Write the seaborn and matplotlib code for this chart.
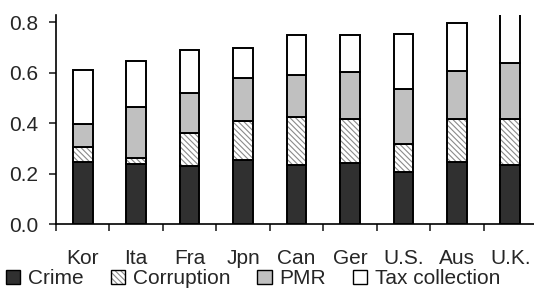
import numpy as np
import matplotlib
matplotlib.use("Agg")
import matplotlib.pyplot as plt
import seaborn as sns
from matplotlib.patches import Patch
from matplotlib.legend_handler import HandlerTuple

countries = ["Kor", "Ita", "Fra", "Jpn", "Can", "Ger", "U.S.", "Aus", "U.K."]
crime = [0.245, 0.239, 0.231, 0.252, 0.235, 0.240, 0.206, 0.245, 0.235]
corruption = [0.060, 0.024, 0.130, 0.155, 0.188, 0.176, 0.109, 0.171, 0.180]
pmr = [0.092, 0.199, 0.159, 0.170, 0.167, 0.186, 0.220, 0.191, 0.221]
tax = [0.213, 0.182, 0.171, 0.119, 0.159, 0.147, 0.219, 0.188, 0.230]
y_ticks = [0.0, 0.2, 0.4, 0.6, 0.8]

sns.set_style("ticks")
plt.rcParams["font.family"] = ["Liberation Sans", "DejaVu Sans"]
plt.rcParams["hatch.linewidth"] = 0.8

fig = plt.figure(figsize=(5.34, 2.89), dpi=100)
ax = fig.add_axes([56 / 534, 1 - 224 / 289, 481 / 534, 209 / 289])

bw = 0.37
lw = 1.4
fs = 15
hatch = "\\" * 6
bottom = np.zeros(len(countries))

# Crime
sns.barplot(x=countries, y=crime, color="#303030", saturation=1, width=bw,
            edgecolor="black", linewidth=lw, errorbar=None, ax=ax)
bottom += np.array(crime)

# Corruption: grey hatch first, then black outline on top
sns.barplot(x=countries, y=corruption, bottom=bottom, color="white", saturation=1,
            width=bw, edgecolor="#8a8a8a", linewidth=0, hatch=hatch,
            errorbar=None, ax=ax)
sns.barplot(x=countries, y=corruption, bottom=bottom, color="black", fill=False,
            width=bw, edgecolor="black", linewidth=lw, errorbar=None, ax=ax)
bottom += np.array(corruption)

# PMR
sns.barplot(x=countries, y=pmr, bottom=bottom, color="#c0c0c0", saturation=1,
            width=bw, edgecolor="black", linewidth=lw, errorbar=None, ax=ax)
bottom += np.array(pmr)

# Tax collection
sns.barplot(x=countries, y=tax, bottom=bottom, color="white", saturation=1,
            width=bw, edgecolor="black", linewidth=lw, errorbar=None, ax=ax)

ax.set_ylim(0, 0.828)
ax.set_xlim(-0.5, len(countries) - 0.5)
ax.set_yticks(y_ticks)
ax.set_yticklabels([f"{v:.1f}" for v in y_ticks])
ax.set_xticks(range(len(countries)))
ax.set_xticklabels(countries)
ax.set_xticks(np.arange(-0.5, len(countries) - 0.4, 1), minor=True)
ax.tick_params(axis="x", which="major", length=0, pad=18, labelsize=fs)
ax.tick_params(axis="x", which="minor", length=5, width=1.2, direction="out")
ax.tick_params(axis="y", length=5, width=1.2, pad=8, labelsize=fs)
ax.set_xlabel("")
ax.set_ylabel("")
sns.despine(ax=ax)
for side in ["left", "bottom"]:
    ax.spines[side].set_linewidth(1.2)
    ax.spines[side].set_color("black")

handles = [
    Patch(facecolor="#303030", edgecolor="black", linewidth=1),
    (Patch(facecolor="white", edgecolor="#8a8a8a", linewidth=0, hatch=hatch),
     Patch(facecolor="none", edgecolor="black", linewidth=1)),
    Patch(facecolor="#c0c0c0", edgecolor="black", linewidth=1),
    Patch(facecolor="white", edgecolor="black", linewidth=1),
]
labels = ["Crime", "Corruption", "PMR", "Tax collection"]
fig.legend(handles, labels, loc="center left", bbox_to_anchor=(6 / 534, 1 - 279 / 289),
           ncol=4, frameon=False, fontsize=fs, handlelength=0.68, handleheight=0.68,
           handletextpad=0.38, columnspacing=1.3, borderaxespad=0, borderpad=0,
           handler_map={tuple: HandlerTuple(ndivide=1)})

fig.savefig("out.png", dpi=100)
